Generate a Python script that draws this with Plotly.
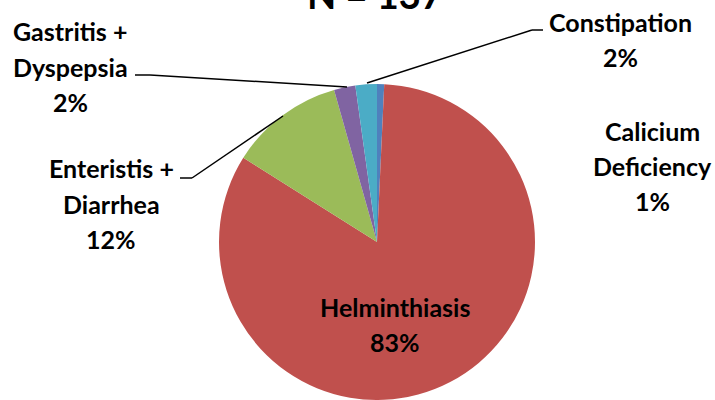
import plotly.graph_objects as go

W, H = 715, 400

categories = ["Calicium Deficiency", "Helminthiasis", "Enteristis + Diarrhea",
              "Gastritis + Dyspepsia", "Constipation"]
counts = [1, 114, 16, 3, 3]          # N = 137
colors = ["#4F81BD", "#C0504D", "#9BBB59", "#8064A2", "#4BACC6"]
title_text = "N = 137"

total = sum(counts)
pct = [f"{round(v / total * 100):.0f}%" for v in counts]

FONT = "Lato, Calibri, 'Open Sans', sans-serif"
FS = 25

def px(x):
    return x / W

def py(y):
    return 1 - y / H

# pie geometry (pixels): centre (377, 242), radius 158
cx, cy, r = 377, 242, 158

fig = go.Figure()
fig.add_trace(go.Pie(
    labels=categories, values=counts, sort=False, direction="clockwise",
    rotation=0, marker=dict(colors=colors, line=dict(width=0)),
    textinfo="none", hoverinfo="label+percent", showlegend=False,
    domain=dict(x=[px(cx - r), px(cx + r)], y=[py(cy + r), py(cy - r)]),
))

annotations = []

def label(lines, xc, ys):
    for t, y in zip(lines, ys):
        annotations.append(dict(
            text=f"<b>{t}</b>", x=px(xc), y=py(y), xref="paper", yref="paper",
            xanchor="center", yanchor="middle", showarrow=False,
            font=dict(family=FONT, size=FS, color="#000000")))

label(["Gastritis +", "Dyspepsia", pct[3]], 70, [31, 67, 102])
label(["Constipation", pct[4]], 620, [22, 57])
label(["Calicium", "Deficiency", pct[0]], 652, [131, 166, 201])
label(["Enteristis +", "Diarrhea", pct[2]], 111, [168, 204, 239])
label(["Helminthiasis", pct[1]], 395, [307, 342])

annotations.append(dict(
    text=f"<b>{title_text}</b>", x=px(375), y=py(-6), xref="paper", yref="paper",
    xanchor="center", yanchor="middle", showarrow=False,
    font=dict(family=FONT, size=38, color="#000000")))

shapes = []

def polyline(pts):
    for (x0, y0), (x1, y1) in zip(pts[:-1], pts[1:]):
        shapes.append(dict(type="line", xref="paper", yref="paper",
                           x0=px(x0), y0=py(y0), x1=px(x1), y1=py(y1),
                           line=dict(color="#000000", width=1.5)))

polyline([(135, 75), (150, 75), (347, 87)])
polyline([(543, 30), (532, 30), (367, 83)])
polyline([(180, 178), (192, 178), (283, 116)])

fig.update_layout(
    width=W, height=H, margin=dict(l=0, r=0, t=0, b=0),
    paper_bgcolor="#FFFFFF", plot_bgcolor="#FFFFFF",
    annotations=annotations, shapes=shapes,
)

fig.write_html("out.html", config={"displayModeBar": False},
               post_script="document.body.style.margin='0';document.body.style.overflow='hidden';")
